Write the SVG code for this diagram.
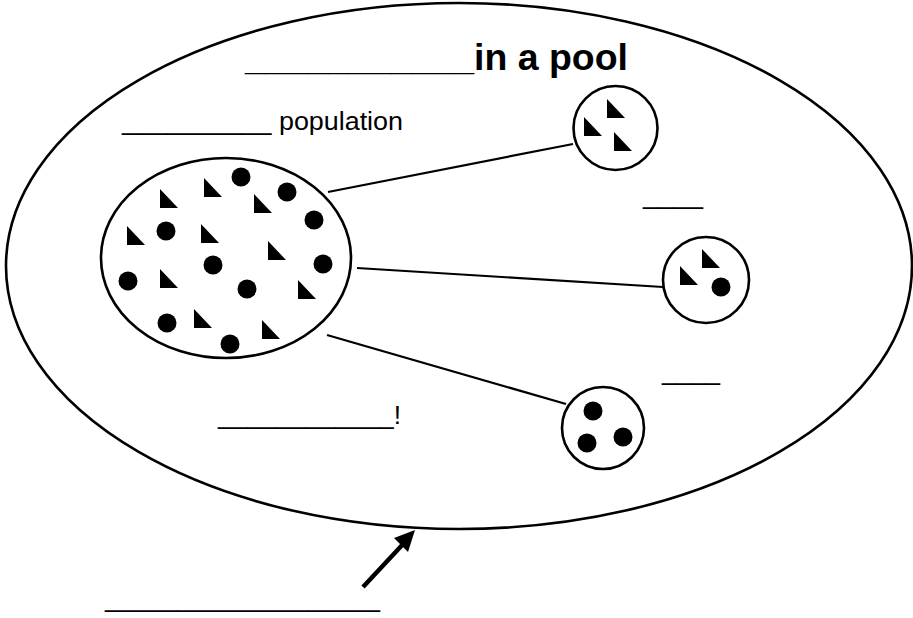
<svg xmlns="http://www.w3.org/2000/svg" width="913" height="618" viewBox="0 0 913 618">
<defs>
<style>
.outline{fill:#fff;stroke:#000;stroke-width:2.6}
.conn{stroke:#000;stroke-width:2.2;fill:none}
.dot{fill:#000}
.lbl{font-family:"Liberation Sans",Arial,sans-serif;font-size:25px;fill:#000}
.ttl{font-family:"Liberation Sans",Arial,sans-serif;font-size:37px;font-weight:bold;fill:#000}
</style>
<path id="tri" d="M0,0 L0,19 L18,19 Z" fill="#000"/>
</defs>
<rect width="913" height="618" fill="#fff"/>
<g id="pool">
<ellipse class="outline" cx="459" cy="266" rx="453" ry="263"/>
</g>
<g id="connectors">
<line class="conn" x1="328" y1="192" x2="573" y2="144"/>
<line class="conn" x1="357" y1="268" x2="663" y2="287"/>
<line class="conn" x1="327" y1="335" x2="566" y2="404"/>
<path d="M363,587 L405,542" stroke="#000" stroke-width="4.5" fill="none"/>
<path d="M415,530 L394,538 L408,552 Z" fill="#000"/>
</g>
<g id="population">
<ellipse class="outline" cx="226" cy="258" rx="125" ry="100"/>
<use href="#tri" x="160" y="189"/>
<use href="#tri" x="204" y="178"/>
<use href="#tri" x="254" y="194"/>
<use href="#tri" x="127" y="226"/>
<use href="#tri" x="201" y="224"/>
<use href="#tri" x="268" y="241"/>
<use href="#tri" x="160" y="269"/>
<use href="#tri" x="298" y="280"/>
<use href="#tri" x="194" y="309"/>
<use href="#tri" x="262" y="320"/>
<circle class="dot" cx="241" cy="177" r="9.5"/>
<circle class="dot" cx="287" cy="192" r="9.5"/>
<circle class="dot" cx="314" cy="220" r="9.5"/>
<circle class="dot" cx="166" cy="231" r="9.5"/>
<circle class="dot" cx="213" cy="265" r="9.5"/>
<circle class="dot" cx="323" cy="264" r="9.5"/>
<circle class="dot" cx="128" cy="281" r="9.5"/>
<circle class="dot" cx="247" cy="289" r="9.5"/>
<circle class="dot" cx="167" cy="323" r="9.5"/>
<circle class="dot" cx="230" cy="344" r="9.5"/>
</g>
<g id="sample-top">
<circle class="outline" cx="615.5" cy="128" r="42"/>
<use href="#tri" x="607" y="99"/>
<use href="#tri" x="584" y="117"/>
<use href="#tri" x="614" y="132"/>
</g>
<g id="sample-middle">
<circle class="outline" cx="706" cy="280" r="43"/>
<use href="#tri" x="702" y="249"/>
<use href="#tri" x="680" y="266"/>
<circle class="dot" cx="721" cy="287" r="9.5"/>
</g>
<g id="sample-bottom">
<circle class="outline" cx="603" cy="428" r="41"/>
<circle class="dot" cx="593" cy="411" r="9.5"/>
<circle class="dot" cx="587" cy="443" r="9.5"/>
<circle class="dot" cx="623" cy="437" r="9.5"/>
</g>
<g id="labels">
<text class="ttl" x="245" y="70" textLength="383" lengthAdjust="spacingAndGlyphs">___________in a pool</text>
<text class="lbl" x="122" y="130" textLength="281" lengthAdjust="spacingAndGlyphs">__________ population</text>
<text class="lbl" x="643" y="204" textLength="60" lengthAdjust="spacingAndGlyphs">____</text>
<text class="lbl" x="662" y="380" textLength="58" lengthAdjust="spacingAndGlyphs">____</text>
<text class="lbl" x="218" y="424" textLength="183" lengthAdjust="spacingAndGlyphs">____________!</text>
<text class="lbl" x="105" y="607" textLength="275" lengthAdjust="spacingAndGlyphs">___________________</text>
</g>
</svg>
